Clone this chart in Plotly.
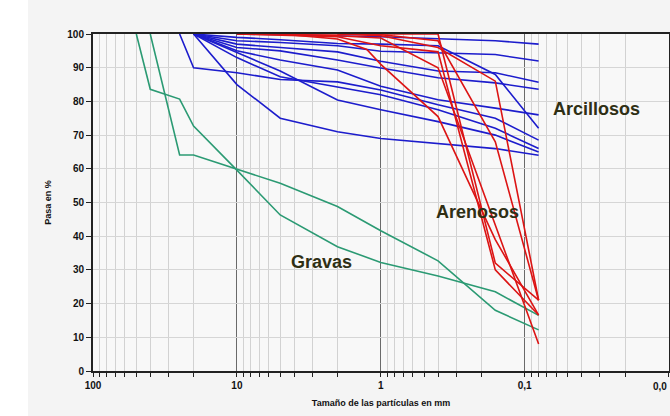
import plotly.graph_objects as go

# Sieve openings (mm)
sieves_mm = [50, 40, 25, 20, 12.5, 10, 5, 2, 1.25, 1, 0.4, 0.16, 0.08]
N = None

# Gravas (green)
gravas_1 = [100, 83.6, 80.7, 72.7, N, 59.6, 46.3, 36.9, N, 32.2, 28.2, 23.5, 16.5]
gravas_2 = [N, 100, 64.1, 64.1, N, 59.8, 55.7, 48.8, N, 41.6, 32.7, 18.0, 12.2]

# Arenosos (red)
arenosos_1 = [N, N, N, N, N, 100, 100, 100, N, 100, 100, 32, 21]
arenosos_2 = [N, N, N, N, N, N, 100, 98.5, 95.4, 91, 75.5, 39, 16.6]
arenosos_3 = [N, N, N, N, N, N, 100, 99.5, N, 98.8, 90, N, 8]
arenosos_4 = [N, N, N, N, N, N, N, 100, N, 99.5, 96, 86, 21]
arenosos_5 = [N, N, N, N, N, 100, 99.7, 99.2, N, 96.5, 94.7, 30, 16.6]
arenosos_6 = [N, N, N, N, N, N, N, 100, N, 99.8, 98, 68, 21]

# Arcillosos (blue)
arcillosos_1 = [N, N, N, N, N, 100, 99.8, 99.5, N, 99.2, 98.6, 98.0, 97.0]
arcillosos_2 = [N, N, N, 100, N, 99, 98.3, 97.2, N, 97.0, 96.5, 88.0, 72.0]
arcillosos_3 = [N, N, N, 100, N, 98, 97.5, 96.5, N, 94.9, 94.5, 93.9, 92.0]
arcillosos_4 = [N, N, N, 100, N, 97, 96.0, 94.7, N, 91.9, 89.0, 88.5, 85.7]
arcillosos_5 = [N, N, N, 100, N, 96, 95.0, 92.3, N, 89.9, 87.0, 85.5, 83.6]
arcillosos_6 = [N, N, N, 100, N, 95, 92.3, 89.3, N, 84.5, 80.5, 78.0, 76.0]
arcillosos_7 = [N, N, 100, 90, N, 88.5, 86.5, 85.8, N, 83.4, 79.0, 75.0, 68.5]
arcillosos_8 = [N, N, N, 100, N, 93, 87.3, 84.4, N, 82.0, 77.5, 72.0, 66.0]
arcillosos_9 = [N, N, N, 100, N, 94.5, 89.0, 80.4, N, 77.5, 74.0, 70.0, 65.0]
arcillosos_10 = [N, N, N, 100, N, 85, 75.0, 71.0, N, 69.0, 67.5, 66.0, 64.0]

x_tick_vals = [100, 10, 1, 0.1, 0.01]
x_tick_text = ["100", "10", "1", "0,1", ""]
x_last_label = "0,0"
x_minor_vals = [m * 10 ** k for k in (-2, -1, 0, 1) for m in range(2, 10)]

GREEN = "#2b9a73"
RED = "#dc1414"
BLUE = "#1c1ccc"

groups = [
    ([gravas_1, gravas_2], GREEN),
    ([arcillosos_1, arcillosos_2, arcillosos_3, arcillosos_4, arcillosos_5,
      arcillosos_6, arcillosos_7, arcillosos_8, arcillosos_9, arcillosos_10], BLUE),
    ([arenosos_1, arenosos_2, arenosos_3, arenosos_4, arenosos_5, arenosos_6], RED),
]

fig = go.Figure()
for series_list, color in groups:
    for vals in series_list:
        fig.add_trace(go.Scatter(
            x=sieves_mm, y=vals, mode="lines", connectgaps=True,
            line=dict(color=color, width=1.6), showlegend=False, hoverinfo="skip"))

tick_font = dict(family="Liberation Sans, Arial", size=10, color="#111", weight="bold")

fig.update_layout(
    width=670, height=416,
    margin=dict(l=93, r=1, t=34, b=45),
    paper_bgcolor="#f4f4f4",
    plot_bgcolor="#f8f8f8",
    xaxis=dict(
        type="log", range=[2, -2.003], autorange=False,
        tickmode="array", tickvals=x_tick_vals, ticktext=x_tick_text,
        ticks="outside", ticklen=4, tickcolor="#222", tickwidth=1,
        showgrid=True, gridcolor="#6a6a6a", gridwidth=1,
        minor=dict(tickmode="array", tickvals=x_minor_vals, showgrid=True,
                   gridcolor="#d2d2d2", gridwidth=1, ticks="outside",
                   ticklen=4, tickcolor="#222"),
        showline=True, linecolor="#222", linewidth=2, mirror=True,
        zeroline=False, automargin=False,
        tickfont=tick_font,
        title=dict(text="Tamaño de las partículas en mm", standoff=10,
                   font=dict(family="Liberation Sans, Arial", size=9,
                             color="#111", weight="bold")),
    ),
    yaxis=dict(
        range=[0, 100], autorange=False, tick0=0, dtick=10,
        ticks="outside", ticklen=5, tickcolor="#222",
        showgrid=True, gridcolor="#d6d6d6", gridwidth=1,
        showline=True, linecolor="#222", linewidth=2, mirror=True,
        zeroline=False, automargin=False,
        tickfont=tick_font,
        title=dict(text="Pasa en %", standoff=14,
                   font=dict(family="Liberation Sans, Arial", size=9,
                             color="#111", weight="bold")),
    ),
    shapes=[dict(type="rect", xref="paper", yref="paper",
                 x0=-93 / 576, x1=-65 / 576, y0=-45 / 337, y1=371 / 337,
                 fillcolor="white", line=dict(width=0), layer="below")],
)

# Last x tick label, kept inside the window as in the reference
fig.add_annotation(text=x_last_label, xref="paper", yref="paper",
                   x=1.0, y=(371 - 386) / 337, xanchor="right", yanchor="middle",
                   showarrow=False, font=tick_font)

label_font = dict(family="Liberation Sans, Arial", size=18, color="#2f2f14", weight="bold")
for text, xp, yp in [("Arcillosos", 596, 109), ("Arenosos", 477, 212), ("Gravas", 321, 262)]:
    fig.add_annotation(text=text, xref="paper", yref="paper",
                       x=(xp - 93) / 576, y=(371 - yp) / 337,
                       xanchor="center", yanchor="middle",
                       showarrow=False, font=label_font)

fig.write_html(
    "out.html",
    config={"displayModeBar": False},
    post_script="document.body.style.margin='0';document.body.style.padding='0';",
)
